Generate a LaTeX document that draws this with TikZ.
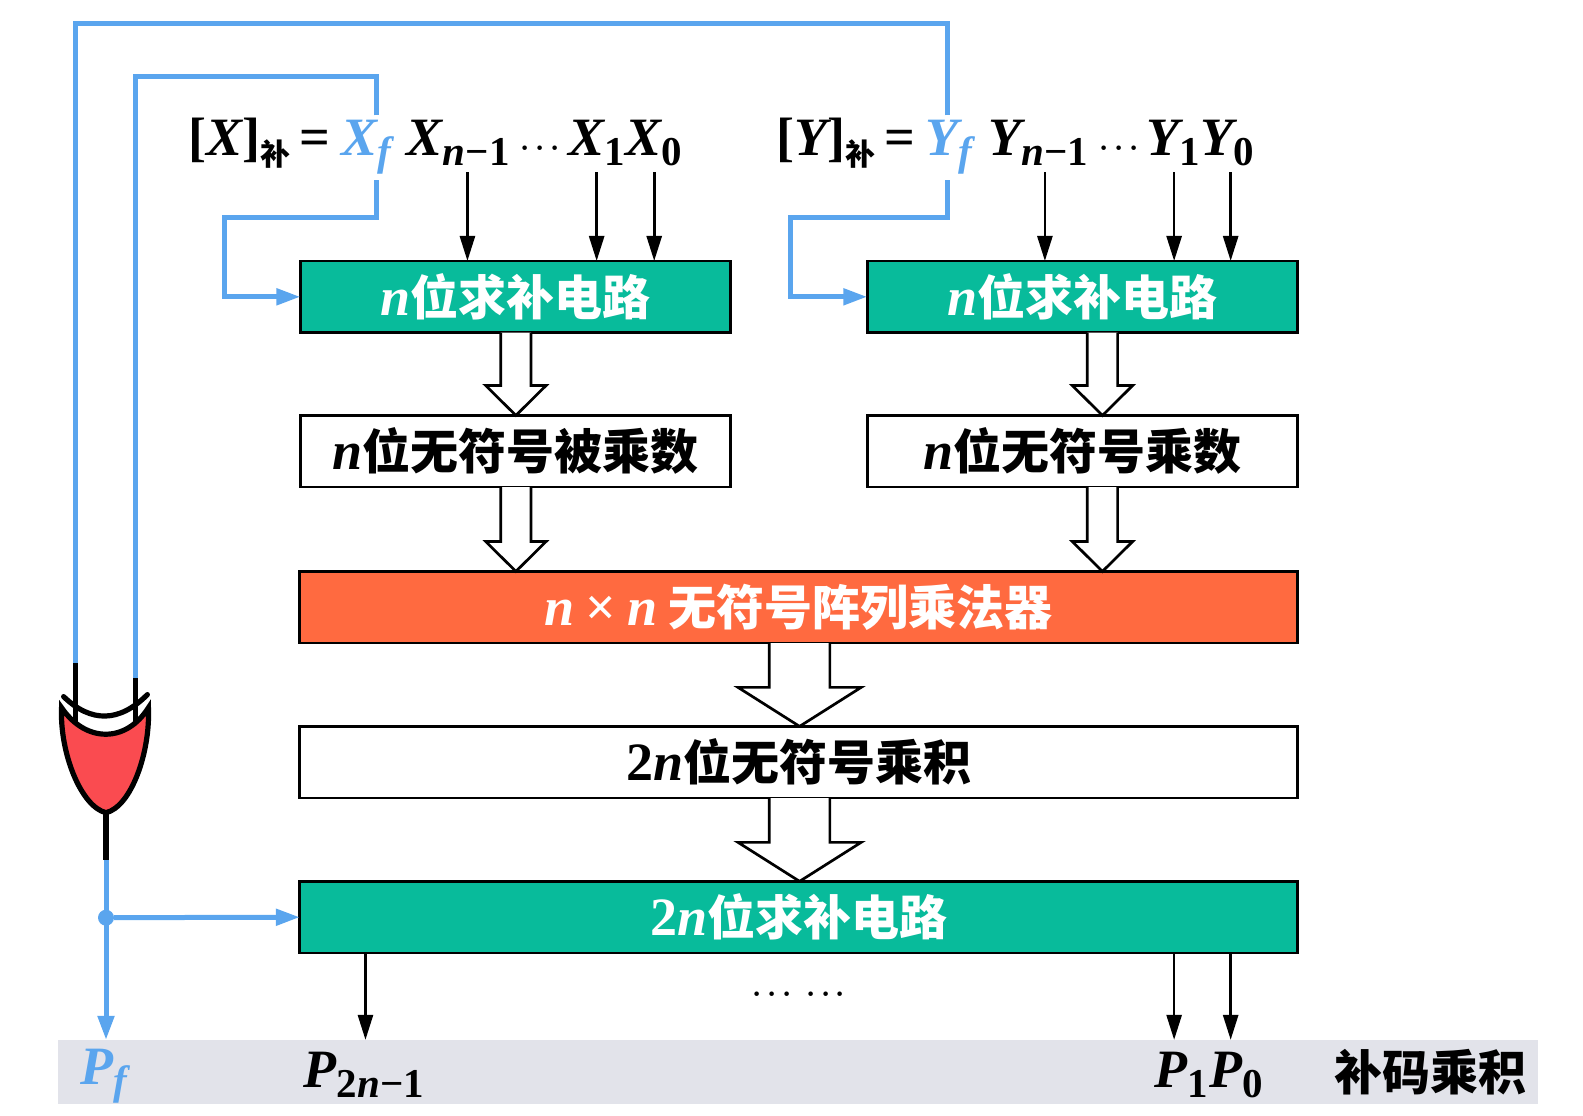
\documentclass[tikz,border=0pt]{standalone}
\usepackage[no-math]{fontspec}
\usepackage{fix-cm}
\usepackage{amsmath}
\usepackage{xcolor}
\usetikzlibrary{arrows.meta}
\newfontfamily\cjk{Noto Sans CJK SC}
\newfontfamily\serifvar{Liberation Serif}
\definecolor{wireblue}{HTML}{5AA5EE}
\definecolor{compgreen}{HTML}{08BB9B}
\definecolor{multorange}{HTML}{FF6A40}
\definecolor{gatered}{HTML}{FA4B50}
\definecolor{bandgrey}{HTML}{E2E3EA}
\newcommand{\vfont}{\fontsize{54}{56}\selectfont\serifvar\bfseries}
\newcommand{\vn}{{\vfont\itshape n}}
\newcommand{\vsym}[2]{{\vfont\itshape #1}\raisebox{-10pt}{\fontsize{41}{41}\selectfont\serifvar\bfseries #2}}
\newcommand{\hollowarrow}[6]{\draw[boxline,fill=white] (#1-#2,0 |- #5.south) -- ([yshift=#4pt]#1-#2,0 |- #6.north)
	-- ([yshift=#4pt]#1-#3,0 |- #6.north) -- (#1,0 |- #6.north) -- ([yshift=#4pt]#1+#3,0 |- #6.north)
	-- ([yshift=#4pt]#1+#2,0 |- #6.north) -- (#1+#2,0 |- #5.south);}
\tikzset{
	boxline/.style={draw=black,line width=2.7pt},
	labelfont/.style={font=\fontsize{48}{56}\selectfont\cjk\bfseries\boldmath},
	widebox/.style={boxline,labelfont,minimum width=997.5pt,minimum height=71.7pt,inner sep=0pt,outer sep=0pt},
	halfbox/.style={boxline,labelfont,minimum width=430pt,minimum height=71.7pt,inner sep=0pt,outer sep=0pt},
	mathtext/.style={labelfont,inner sep=0pt,outer sep=0pt,anchor=base west,text height=40pt,text depth=17pt},
	signal/.style={draw=black,line width=2.7pt,-{Triangle[length=25pt,width=15pt]}},
	bluewire/.style={draw=wireblue,line width=5pt},
	bluearrow/.style={bluewire,-{Triangle[length=24pt,width=16pt]}},
	gateline/.style={draw=black,line width=5.2pt}
}
\begin{document}
\begin{tikzpicture}[x=1.0096pt,y=-1.0096pt]
	\useasboundingbox (0,0) rectangle (1568,1105.4);
	\node[fill=bandgrey,minimum width=1480pt,minimum height=64.6pt,inner sep=0pt,outer sep=0pt] (band) at (790,1062) {};

	\node[mathtext] (xlabel) at (187,154) {{\vfont[\vsym{X}{}]}\raisebox{-10pt}{\fontsize{30}{30}\selectfont 补}{\vfont\,=}};
	\node[mathtext,text=wireblue,text depth=25pt] (xf) at (338,154) {\vsym{X}{\itshape f}};
	\node[mathtext] (xn) at (403,154) {\vsym{X}{{\itshape n}−1}};
	\node[mathtext] (xdots) at (516,154) {\fontsize{29}{29}\selectfont$\cdots$};
	\node[mathtext] (xb) at (563,154) {\vsym{X}{1}};
	\node[mathtext] (xa) at (620,154) {\vsym{X}{0}};
	\node[mathtext] (ylabel) at (769,154) {{\vfont[\vsym{Y}{}]}\raisebox{-10pt}{\fontsize{30}{30}\selectfont 补}{\vfont\,=}};
	\node[mathtext,text=wireblue,text depth=25pt] (yf) at (917,154) {\vsym{Y}{\itshape f}};
	\node[mathtext] (yn) at (979,154) {\vsym{Y}{{\itshape n}−1}};
	\node[mathtext] (ydots) at (1089,154) {\fontsize{29}{29}\selectfont$\cdots$};
	\node[mathtext] (yb) at (1136,154) {\vsym{Y}{1}};
	\node[mathtext] (ya) at (1189,154) {\vsym{Y}{0}};

	\node[halfbox,fill=compgreen,text=white] (xcomp) at (510.5,294) {\vn 位求补电路};
	\node[halfbox,fill=compgreen,text=white] (ycomp) at (1072,294) {\vn 位求补电路};
	\node[halfbox,fill=white] (xmag) at (510.5,447) {\vn 位无符号被乘数};
	\node[halfbox,fill=white] (ymag) at (1072,447) {\vn 位无符号乘数};
	\node[widebox,fill=multorange,text=white] (mult) at (791,601.5) {\vn\ {\vfont×} \vn\ 无符号阵列乘法器};
	\node[widebox,fill=white] (prod) at (791,755) {{\vfont 2}\vn 位无符号乘积};
	\node[widebox,fill=compgreen,text=white] (comp) at (791,908.5) {{\vfont 2}\vn 位求补电路};

	\hollowarrow{511}{15}{30}{30}{xcomp}{xmag}
	\hollowarrow{1092}{15}{30}{30}{ycomp}{ymag}
	\hollowarrow{511}{15}{30}{30}{xmag}{mult}
	\hollowarrow{1092}{15}{30}{30}{ymag}{mult}
	\hollowarrow{792}{30}{61}{39}{mult}{prod}
	\hollowarrow{792}{30}{61}{39}{prod}{comp}

	\foreach \x/\src in {463/xn,591/xb,648/xa}
		\draw[signal] (\x,0 |- \src.south) -- (\x,0 |- xcomp.north);
	\foreach \x/\src in {1035/yn,1163/yb,1219/ya}
		\draw[signal] (\x,0 |- \src.south) -- (\x,0 |- ycomp.north);

	\node[labelfont,inner sep=0pt] (pdots) at (794,985) {\fontsize{29}{29}\selectfont$\cdots\;\cdots$};
	\node[mathtext,text=wireblue] (pf) at (80,1074) {\vsym{P}{\itshape f}};
	\node[mathtext] (pn) at (301,1077) {\vsym{P}{2{\itshape n}−1}};
	\node[mathtext] (pb) at (1144,1077) {\vsym{P}{1}};
	\node[mathtext] (pa) at (1198,1077) {\vsym{P}{0}};
	\node[labelfont,inner sep=0pt] (result) at (1417,1062) {补码乘积};
	\foreach \x in {362,1163,1219}
		\draw[signal] (\x,0 |- comp.south) -- (\x,0 |- band.north);

	% xor gate
	\coordinate (ina) at (75,657);
	\coordinate (inb) at (134,672);
	\coordinate (gateout) at (105,805);
	\coordinate (outend) at (105,852);
	\draw[bluewire] (373,0 |- xf.north) |- (134,76) -- (inb);
	\draw[bluewire] (939,0 |- yf.north) |- (75,23) -- (ina);
	\draw[gateline] (ina) -- (75,718);
	\draw[gateline] (inb) -- (134,718);
	\draw[gateline,line cap=round] (63,690) .. controls (90,716) and (118,716) .. (146,688);
	\draw[gateline,fill=gatered] (61,701) .. controls (85,736) and (125,736) .. (147,701)
		.. controls (149,745) and (130,799) .. (105,805) .. controls (80,799) and (59,745) .. (61,701) -- cycle;
	\draw[gateline] (gateout) -- (outend);
	\draw[bluearrow] (373,0 |- xf.south) |- (222,215) |- (xcomp.west);
	\draw[bluearrow] (939,0 |- yf.south) |- (783,215) |- (ycomp.west);
	\draw[bluearrow] (outend) -- (outend |- band.north);
	\node[circle,fill=wireblue,minimum size=16pt,inner sep=0pt] (junc) at (105,909) {};
	\draw[bluearrow] (junc) -- (comp.west);
\end{tikzpicture}
\end{document}
